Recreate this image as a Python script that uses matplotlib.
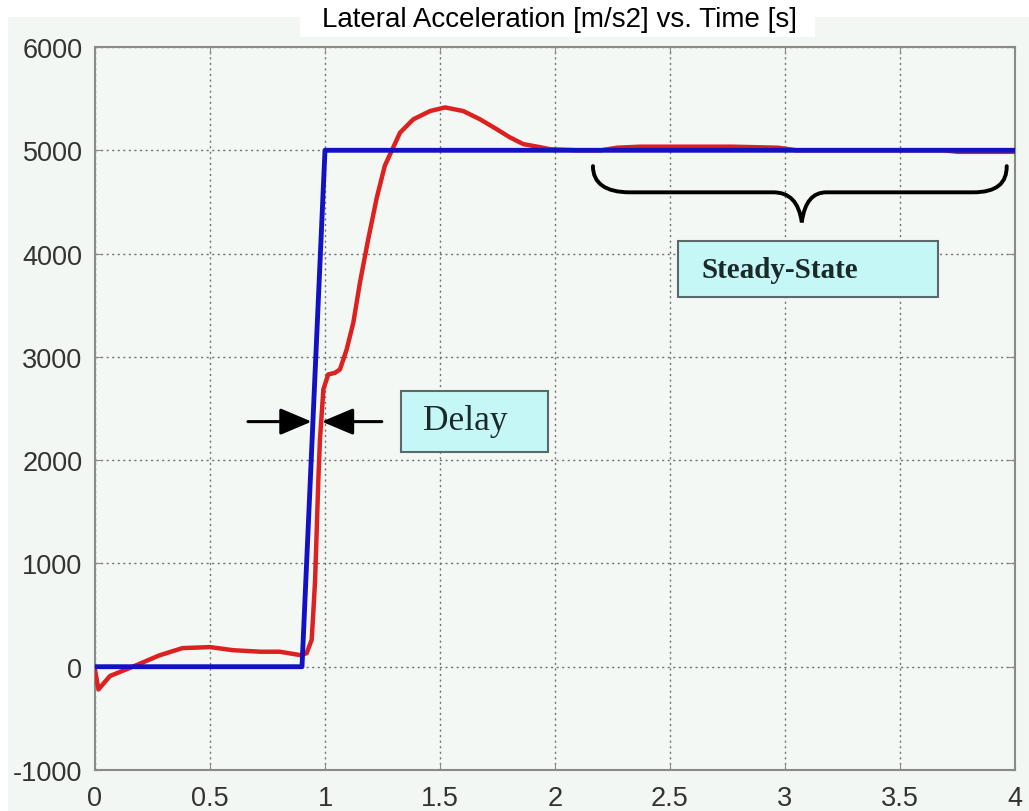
import matplotlib
matplotlib.use("Agg")
import matplotlib.pyplot as plt
from matplotlib.patches import Rectangle, PathPatch
from matplotlib.path import Path

plt.rcParams["axes.unicode_minus"] = False

# command (step input) and measured lateral acceleration
t_cmd = [0.0, 0.9, 1.0, 4.0]
a_cmd = [0, 0, 5000, 5000]

t_resp = [0.0, 0.015, 0.065, 0.12, 0.18, 0.28, 0.38, 0.5, 0.6, 0.72, 0.804,
          0.891, 0.92, 0.942, 0.949, 0.957, 0.964, 0.971, 0.978, 0.993,
          1.014, 1.043, 1.065, 1.094, 1.123, 1.152, 1.188, 1.225, 1.26,
          1.297, 1.326, 1.384, 1.457, 1.522, 1.601, 1.674, 1.746, 1.804,
          1.862, 1.935, 1.98, 2.1, 2.2, 2.27, 2.37, 2.77, 2.97, 3.05, 3.69,
          3.75, 4.0]
a_resp = [-30, -220, -90, -40, 15, 110, 180, 190, 160, 145, 145,
          113, 130, 260, 520, 840, 1325, 1810, 2200, 2685,
          2830, 2845, 2878, 3070, 3330, 3720, 4140, 4540, 4850,
          5030, 5170, 5300, 5380, 5415, 5380, 5300, 5205, 5125,
          5060, 5030, 5010, 5000, 5000, 5025, 5035, 5035, 5025, 5000, 5000,
          4985, 4985]

x_ticks = [0, 0.5, 1, 1.5, 2, 2.5, 3, 3.5, 4]
x_labels = ["0", "0.5", "1", "1.5", "2", "2.5", "3", "3.5", "4"]
y_ticks = [-1000, 0, 1000, 2000, 3000, 4000, 5000, 6000]

W, H = 1029, 812
fig = plt.figure(figsize=(W / 100, H / 100), dpi=100)
fig.patch.set_facecolor("white")

# light backdrop with a white margin and a white title strip
fig.add_artist(Rectangle((8 / W, 0), 1 - 8 / W, 1 - 18 / H, transform=fig.transFigure,
                         facecolor="#f3f7f3", edgecolor="none", zorder=0))
fig.add_artist(Rectangle((300 / W, 1 - 38 / H), 515 / W, 38 / H, transform=fig.transFigure,
                         facecolor="white", edgecolor="none", zorder=0))
fig.text(559 / W, 1 - 27 / H, "Lateral Acceleration [m/s2] vs. Time [s]",
         ha="center", va="baseline", fontsize=20, family="Liberation Sans", color="black")

ax = fig.add_axes([95 / W, 1 - 771 / H, 920 / W, 723 / H])
ax.set_facecolor("#f4f8f4")

ax.plot(t_resp, a_resp, color="#dd2020", lw=3.2, zorder=3, solid_capstyle="round")
ax.plot(t_cmd, a_cmd, color="#1212c4", lw=3.5, zorder=4)

ax.set_xlim(0, 4)
ax.set_ylim(-1000, 6000)
ax.set_xticks(x_ticks)
ax.set_xticklabels(x_labels)
ax.set_yticks(y_ticks)
ax.grid(True, linestyle=(0, (1.5, 2.5)), color="#707070", lw=1)
for s in ax.spines.values():
    s.set_color("#8a8a8a")
    s.set_linewidth(1.5)
ax.tick_params(direction="in", length=5, color="#8a8a8a", labelsize=19.5,
               labelcolor="#333333", top=True, right=True,
               labeltop=False, labelright=False)
ax.tick_params(axis="y", pad=9)
ax.tick_params(axis="x", pad=11)
for lab in ax.get_xticklabels() + ax.get_yticklabels():
    lab.set_family("Liberation Sans")

# delay arrows
arr = dict(arrowstyle="-|>,head_length=0.97,head_width=0.41", color="black",
           lw=2.2, shrinkA=0, shrinkB=0, mutation_scale=20)
ax.annotate("", xy=(0.942, 2373), xytext=(0.665, 2373), arrowprops=arr, zorder=6)
ax.annotate("", xy=(0.986, 2373), xytext=(1.247, 2373), arrowprops=arr, zorder=6)

# label boxes
box_style = dict(facecolor="#c6f7f7", edgecolor="#5a6a6a", lw=1.5, zorder=6)
ax.add_patch(Rectangle((1.330, 2082), 0.640, 592, **box_style))
ax.text(1.426, 2383, "Delay", family="Liberation Serif", fontsize=25.5,
        color="#1a2a2a", va="center", ha="left", zorder=7)
ax.add_patch(Rectangle((2.535, 3576), 1.130, 543, **box_style))
ax.text(2.638, 3841, "Steady-State", family="Liberation Serif", fontsize=21,
        fontweight="bold", color="#1a2a2a", va="center", ha="left", zorder=7)

# curly brace over the steady-state region
verts = [(2.165, 4847), (2.165, 4680), (2.22, 4593), (2.326, 4593),
         (2.948, 4593),
         (3.02, 4593), (3.06, 4500), (3.073, 4302),
         (3.085, 4500), (3.12, 4593), (3.181, 4593),
         (3.817, 4593),
         (3.92, 4593), (3.964, 4680), (3.964, 4847)]
codes = [Path.MOVETO, Path.CURVE4, Path.CURVE4, Path.CURVE4,
         Path.LINETO,
         Path.CURVE4, Path.CURVE4, Path.CURVE4,
         Path.CURVE4, Path.CURVE4, Path.CURVE4,
         Path.LINETO,
         Path.CURVE4, Path.CURVE4, Path.CURVE4]
ax.add_patch(PathPatch(Path(verts, codes), facecolor="none", edgecolor="black",
                       lw=2.8, capstyle="round", zorder=6))

fig.savefig("out.png", dpi=100, facecolor=fig.get_facecolor())
